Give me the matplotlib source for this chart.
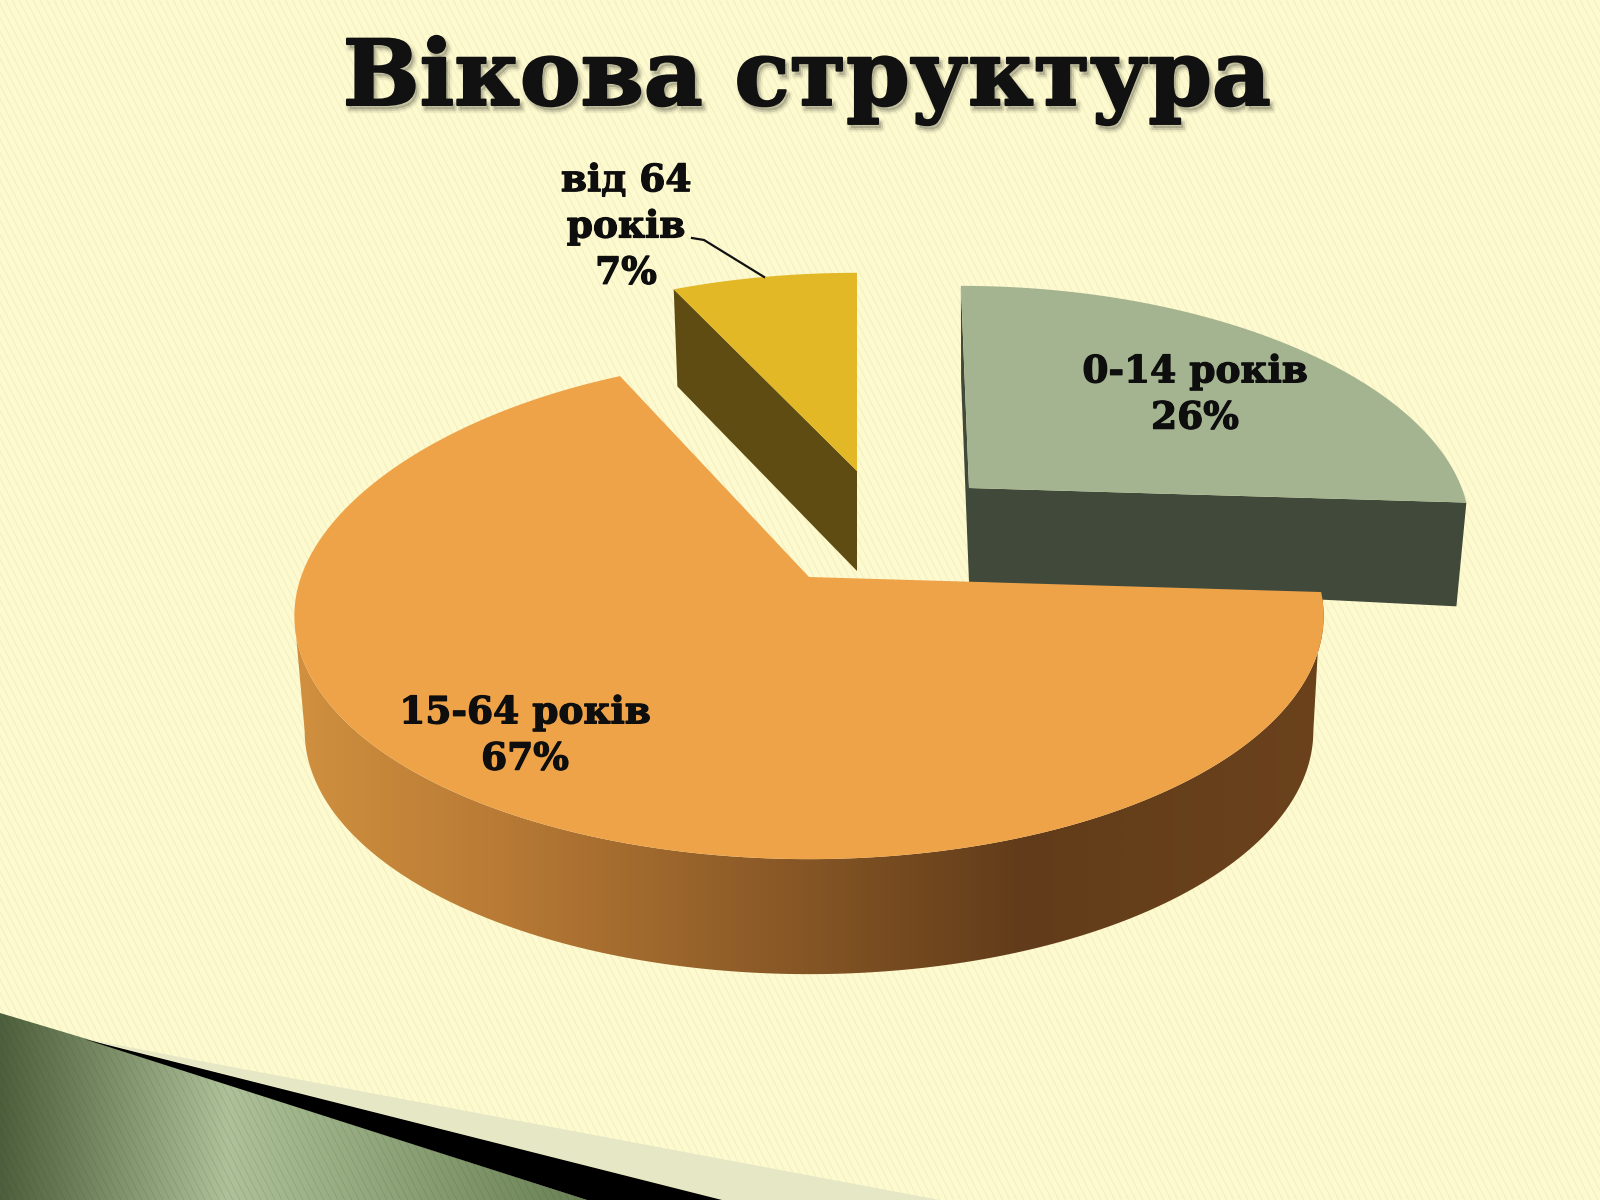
import numpy as np
import matplotlib
matplotlib.use("Agg")
import matplotlib.pyplot as plt
import matplotlib.patheffects as pe
from matplotlib.colors import LinearSegmentedColormap
from matplotlib.collections import LineCollection
from matplotlib.patches import Polygon

# Data
title = "Вікова структура"
categories = ["0-14 років", "15-64 років", "від 64\nроків"]
shares = [26, 67, 7]

top_colors = ["#A5B490", "#EFA349", "#E2B827"]
wall_colors = ["#41493A", None, "#5F4C13"]

# Slice placement on the canvas (pixels): apex x, apex y, scale, lean, depth, tilt, upper stretch
GRAY = (969, 488, 0.97, 0.04, 94, 10, 0.02)
ORANGE = (809, 577, 1.0, 0.0, 115, 0, 0.08)
YELLOW = (857, 471, 0.97, 0.0, 100, 8, 0.0)

RX, RY, PERSP = 508, 237, 0.16
BG = "#FDFAD0"

fig = plt.figure(figsize=(16, 12), dpi=100, facecolor=BG)
ax = fig.add_axes([0, 0, 1, 1])
ax.set_axis_off()


def rim(theta, place, bottom=False):
    # theta in degrees, clockwise from the top of the pie
    ax0, ay0, s, lean, depth, tilt, stretch = place
    t = np.radians(np.atleast_1d(theta))
    u, v = np.sin(t), np.cos(t)
    xr = s * RX * u / (1 + PERSP * v)
    yr = -s * RY * v / (1 + PERSP * v) * (1 + stretch * np.clip(v, 0, None))
    xr = xr + lean * yr
    if bottom:
        return np.c_[ax0 + 0.98 * xr, ay0 + yr + depth + tilt * xr / RX]
    return np.c_[ax0 + xr, ay0 + yr]


def apex(place, bottom=False):
    return np.array([[place[0], place[1] + (place[4] if bottom else 0)]])


def gradient(poly, stops, xmin, xmax, ymin, ymax, zorder):
    cmap = LinearSegmentedColormap.from_list("g", stops)
    im = ax.imshow(np.linspace(0, 1, 512)[None, :], cmap=cmap, aspect="auto",
                   extent=(xmin, xmax, ymax, ymin), zorder=zorder)
    patch = Polygon(poly, closed=True, transform=ax.transData, fc="none", ec="none")
    ax.add_patch(patch)
    im.set_clip_path(patch)
    return patch


# Slice angles from the shares
fracs = np.array(shares) / sum(shares) * 360
gray_a = (0, fracs[0])
orange_a = (fracs[0], fracs[0] + fracs[1])
yellow_a = (fracs[0] + fracs[1], 360)

# Faint diagonal background texture
offs = np.arange(-800, 1700, 7)
segs = [[(o, 0), (o + 620, 1200)] for o in offs]
ax.add_collection(LineCollection(segs, colors="#E9E3AE", linewidths=0.8, alpha=0.45, zorder=1))

# Bottom corner decoration
ax.add_patch(Polygon([(87, 1039), (195, 1060), (940, 1200), (722, 1200)], fc="#E6E8C5", ec="none", zorder=2))
green = [(0, 1013), (87, 1039), (587, 1200), (0, 1200)]
green_patch = gradient(green, [(0, "#4D5F3C"), (0.38, "#AEC198"), (1, "#677F52")], 0, 600, 1000, 1200, 2)
ax.add_patch(Polygon([(84, 1039), (722, 1200), (587, 1200)], fc="black", ec="none", zorder=3))
dark_hatch = LineCollection(segs, colors="#2E3A22", linewidths=0.6, alpha=0.14, zorder=3)
ax.add_collection(dark_hatch)
dark_hatch.set_clip_path(green_patch)

# 0-14 slice
arc = rim(np.linspace(*gray_a, 120), GRAY)
ax.add_patch(Polygon(np.r_[rim(gray_a[0], GRAY), apex(GRAY), apex(GRAY, True), rim(gray_a[0], GRAY, True)],
                     fc=wall_colors[0], ec="none", zorder=4))
ax.add_patch(Polygon(np.r_[rim(gray_a[1], GRAY), apex(GRAY), apex(GRAY, True), rim(gray_a[1], GRAY, True)],
                     fc=wall_colors[0], ec="none", zorder=4))
ax.add_patch(Polygon(np.r_[apex(GRAY), arc], fc=top_colors[0], ec="none", zorder=5))

# від 64 slice
arc = rim(np.linspace(*yellow_a, 60), YELLOW)
ax.add_patch(Polygon(np.r_[rim(yellow_a[0], YELLOW), apex(YELLOW), apex(YELLOW, True), rim(yellow_a[0], YELLOW, True)],
                     fc=wall_colors[2], ec="none", zorder=4))
ax.add_patch(Polygon(np.r_[apex(YELLOW), arc], fc=top_colors[2], ec="none", zorder=5))

# 15-64 slice, outer wall with a horizontal gradient
ts = np.linspace(*orange_a, 600)
arc = rim(ts, ORANGE)
low = rim(ts, ORANGE, True)
# both ends of the wall run along the silhouette, from the rim to the lower edge
wall = np.r_[arc[:np.argmin(arc[:, 0]) + 1], low[np.argmax(low[:, 0]):np.argmin(low[:, 0]) + 1][::-1]]
gradient(wall, [(0, "#D0903F"), (0.2, "#B87A35"), (0.7, "#623C1A"), (1, "#6B421C")], 295, 1330, 500, 1000, 6)
ax.add_patch(Polygon(np.r_[apex(ORANGE), arc], fc=top_colors[1], ec="none", zorder=7))

# Labels
label_font = dict(family="DejaVu Serif", weight="bold", fontsize=27, color="#0E0E0E",
                  ha="center", va="center", linespacing=1.32, zorder=9,
                  path_effects=[pe.withStroke(linewidth=0.9, foreground="#0E0E0E")])
ax.text(1195, 395, f"{categories[0]}\n{shares[0]}%", **label_font)
ax.text(525, 736, f"{categories[1]}\n{shares[1]}%", **label_font)
ax.text(626, 227, f"{categories[2]}\n{shares[2]}%", **label_font)

# Leader line to the small slice
mid = rim(np.mean(yellow_a), YELLOW)[0]
ax.plot([692, 704, mid[0]], [238, 240, mid[1]], color="#111111", lw=1.6, zorder=8)

# Title with a soft shadow
ax.text(807, 105, title, family="DejaVu Serif", weight="bold", fontsize=65.5, color="#111111",
        ha="center", va="baseline", zorder=10,
        path_effects=[
            pe.Stroke(linewidth=6, foreground="#000000", alpha=0.05, offset=(2, -3)),
            pe.Stroke(linewidth=3, foreground="#000000", alpha=0.12, offset=(2, -3)),
            pe.Stroke(linewidth=1.5, foreground="#111111"),
            pe.Normal(),
        ])

ax.set_xlim(0, 1600)
ax.set_ylim(1200, 0)
fig.savefig("out.png", dpi=100, facecolor=BG)
